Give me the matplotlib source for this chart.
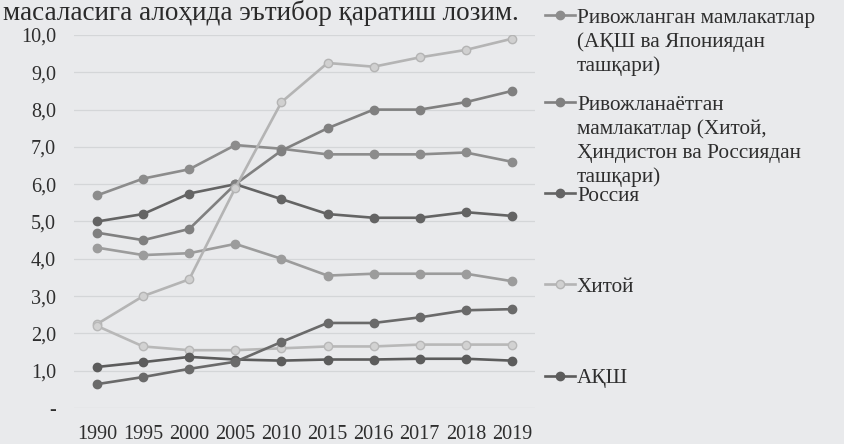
import matplotlib
matplotlib.use("Agg")
import matplotlib.pyplot as plt

# データ
years = ['1990', '1995', '2000', '2005', '2010', '2015', '2016', '2017', '2018', '2019']

developed = [5.7, 6.15, 6.4, 7.05, 6.95, 6.8, 6.8, 6.8, 6.85, 6.6]
russia = [5.0, 5.2, 5.75, 6.0, 5.6, 5.2, 5.1, 5.1, 5.25, 5.15]
developing = [4.7, 4.5, 4.8, 6.0, 6.9, 7.5, 8.0, 8.0, 8.2, 8.5]
series_4 = [4.3, 4.1, 4.15, 4.4, 4.0, 3.55, 3.6, 3.6, 3.6, 3.4]
china = [2.25, 3.0, 3.45, 5.9, 8.2, 9.25, 9.15, 9.4, 9.6, 9.9]
series_6 = [2.2, 1.65, 1.55, 1.55, 1.6, 1.65, 1.65, 1.7, 1.7, 1.7]
usa = [1.1, 1.23, 1.37, 1.3, 1.27, 1.3, 1.3, 1.32, 1.32, 1.27]
series_8 = [0.64, 0.83, 1.05, 1.24, 1.77, 2.28, 2.28, 2.43, 2.62, 2.65]

legend_lines = [
    ['Ривожланган мамлакатлар', '(АҚШ ва Япониядан', 'ташқари)'],
    ['Ривожланаётган', 'мамлакатлар (Хитой,', 'Ҳиндистон ва Россиядан', 'ташқари)'],
    ['Россия'],
    ['Хитой'],
    ['АҚШ'],
]

font = ['Liberation Serif', 'DejaVu Serif']
plt.rcParams['font.family'] = font
bg = '#e9eaec'
txt = '#2e2e2e'

fig = plt.figure(figsize=(8.45, 4.44), dpi=100, facecolor=bg)
ax = fig.add_axes([74 / 845, 1 - 408 / 444, (535 - 74) / 845, (408 - 35) / 444])
ax.set_facecolor(bg)

x = list(range(len(years)))

def draw(vals, color, mfc=None, lw=1.9, ms=6):
    return ax.plot(x, vals, color=color, lw=lw, marker='o', ms=ms,
                   mfc=mfc or color, mec=color, zorder=3)[0]

h_dev = draw(developed, '#8c8c8c')
h_rus = draw(russia, '#646464')
h_dvg = draw(developing, '#808080')
draw(series_4, '#9c9c9c')
h_chn = draw(china, '#b4b4b4', mfc='#d0d0d0')
draw(series_6, '#b8b8b8', mfc='#d2d2d2')
h_usa = draw(usa, '#5c5c5c')
draw(series_8, '#6a6a6a')

ax.set_xlim(-0.5, 9.5)
ax.set_ylim(0, 10)
ax.set_yticks(range(0, 11))
ax.set_yticklabels(['-'] + [f'{v},0' for v in range(1, 11)])
ax.set_xticks(x)
ax.set_xticklabels(years)
ax.tick_params(length=0, labelsize=14.5, colors=txt)
ax.tick_params(axis='y', pad=13)
ax.tick_params(axis='x', pad=12)
ax.grid(axis='y', color='#d4d6d8', lw=0.9)
for s in ax.spines.values():
    s.set_visible(False)

# 凡例（手動配置）
fs = 15.3
fs_px = fs * 100 / 72
lx = 545 / 845
text_x = lx + (30 + 2) / 845
pitch = 24 / 444
tops = [18, 105, 196, 287, 378]
handles = [h_dev, h_dvg, h_rus, h_chn, h_usa]
for h, lines, ty in zip(handles, legend_lines, tops):
    yc = 1 - ty / 444
    fig.legend([h], [lines[0]], loc='center left', bbox_to_anchor=(lx, yc),
               frameon=False, fontsize=fs, borderpad=0, borderaxespad=0,
               handlelength=30 / fs_px, handletextpad=2 / fs_px,
               labelcolor=txt)
    for k, ln in enumerate(lines[1:], start=1):
        fig.text(text_x, yc - k * pitch, ln, va='center', ha='left',
                 fontsize=fs, color=txt)

# 上部の本文
fig.text(0.004, 1.0, 'масаласига алоҳида эътибор қаратиш лозим.',
         va='top', ha='left', fontsize=19.5, color='#2a2a2a')

fig.savefig('out.png', dpi=100, facecolor=bg)
